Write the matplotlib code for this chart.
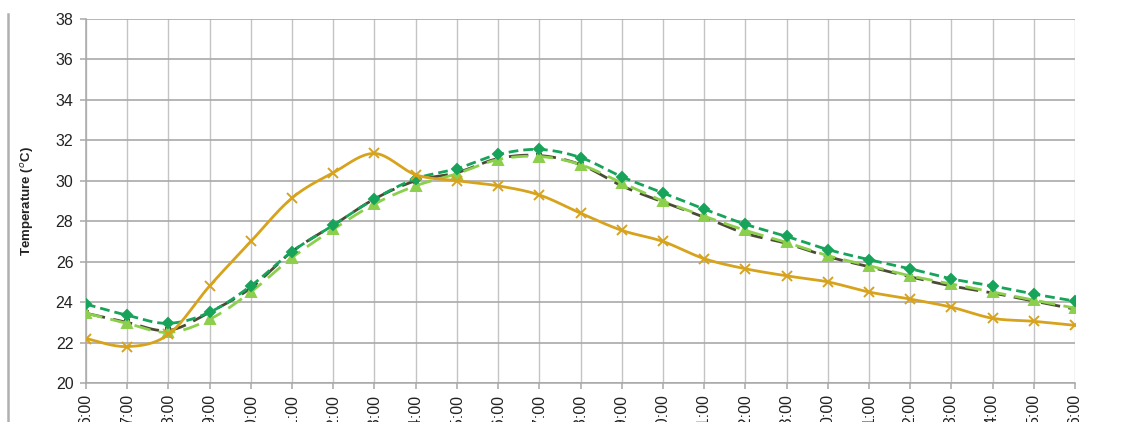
import numpy as np
import matplotlib
matplotlib.use("Agg")
import matplotlib.pyplot as plt
from matplotlib.lines import Line2D

plt.rcParams["font.family"] = ["Liberation Sans", "DejaVu Sans"]

# Hourly temperatures over one day (06:00 to 06:00 next day)
hours = ["6:00", "7:00", "8:00", "9:00", "10:00", "11:00", "12:00", "13:00",
         "14:00", "15:00", "16:00", "17:00", "18:00", "19:00", "20:00", "21:00",
         "22:00", "23:00", "0:00", "1:00", "2:00", "3:00", "4:00", "5:00", "6:00"]

outdoor = [22.2, 21.8, 22.4, 24.8, 27.0, 29.15, 30.4, 31.35, 30.3, 30.0, 29.75, 29.3,
           28.4, 27.55, 27.0, 26.15, 25.65, 25.3, 25.0, 24.5, 24.15, 23.75, 23.2, 23.05, 22.85]

room_a = [23.9, 23.35, 22.95, 23.5, 24.8, 26.5, 27.8, 29.1, 30.1, 30.6, 31.3, 31.55,
          31.15, 30.2, 29.4, 28.6, 27.85, 27.25, 26.6, 26.1, 25.65, 25.15, 24.8, 24.4, 24.05]

room_b = [23.45, 23.0, 22.6, 23.5, 24.7, 26.5, 27.8, 29.1, 30.0, 30.4, 31.1, 31.25,
          30.8, 29.75, 28.95, 28.2, 27.4, 26.9, 26.25, 25.75, 25.25, 24.8, 24.45, 24.05, 23.65]

room_c = [23.45, 22.95, 22.5, 23.15, 24.5, 26.2, 27.6, 28.85, 29.75, 30.35, 31.05, 31.2,
          30.8, 29.9, 29.0, 28.25, 27.55, 26.95, 26.3, 25.8, 25.3, 24.9, 24.5, 24.1, 23.7]

y_ticks = [20, 22, 24, 26, 28, 30, 32, 34, 36, 38]


def smooth(xs, ys, n=20):
    """Smoothed line through the points (cubic Bezier / Catmull-Rom segments)."""
    xs = np.asarray(xs, float)
    ys = np.asarray(ys, float)
    px = np.concatenate([[xs[0]], xs, [xs[-1]]])
    py = np.concatenate([[ys[0]], ys, [ys[-1]]])
    out_x, out_y = [], []
    t = np.linspace(0, 1, n, endpoint=False)
    for i in range(1, len(px) - 2):
        p0 = np.array([px[i], py[i]])
        p3 = np.array([px[i + 1], py[i + 1]])
        c1 = p0 + (np.array([px[i + 1], py[i + 1]]) - np.array([px[i - 1], py[i - 1]])) / 6
        c2 = p3 - (np.array([px[i + 2], py[i + 2]]) - np.array([px[i], py[i]])) / 6
        b = ((1 - t) ** 3)[:, None] * p0 + (3 * (1 - t) ** 2 * t)[:, None] * c1 \
            + (3 * (1 - t) * t ** 2)[:, None] * c2 + (t ** 3)[:, None] * p3
        out_x.extend(b[:, 0])
        out_y.extend(b[:, 1])
    out_x.append(xs[-1])
    out_y.append(ys[-1])
    return np.array(out_x), np.array(out_y)


fig = plt.figure(figsize=(11.35, 4.22), dpi=100)
ax = fig.add_axes([86 / 1135, 1 - 383 / 422, (1075 - 86) / 1135, (383 - 19) / 422])

x = np.arange(len(hours))

series = [
    (room_b, "#4a4a35", (0, (7, 3)), "s", 3.5, 2),
    (room_c, "#8ccf4c", (0, (6, 3)), "^", 6.5, 3),
    (room_a, "#17a35a", (0, (3.5, 1.8)), "D", 5.5, 4),
    (outdoor, "#d8a31c", "-", "x", 6.5, 5),
]
for ys, col, ls, mk, ms, z in series:
    sx, sy = smooth(x, ys)
    ax.plot(sx, sy, color=col, lw=2.0, linestyle=ls, zorder=z)
    ax.plot(x, ys, linestyle="none", marker=mk, markersize=ms, color=col,
            markeredgecolor=col, markeredgewidth=1.4, zorder=z)

ax.set_xlim(0, len(hours) - 1)
ax.set_ylim(20, 38)
ax.set_yticks(y_ticks)
ax.set_xticks(x)
ax.set_xticklabels(hours, rotation=90, va="top", ha="center")
ax.grid(True, axis="y", color="#a9a9a9", lw=1.2)
ax.grid(True, axis="x", color="#c4c4c4", lw=1.0)
ax.set_axisbelow(True)
for s in ["top", "right"]:
    ax.spines[s].set_visible(False)
ax.spines["left"].set_color("#a8a8a8")
ax.spines["bottom"].set_color("#a8a8a8")
ax.spines["left"].set_linewidth(1.1)
ax.spines["bottom"].set_linewidth(1.1)
ax.tick_params(axis="both", colors="#a8a8a8", labelcolor="#222222",
               labelsize=11.5, length=4, width=1.1)
ax.tick_params(axis="y", pad=5)
ax.tick_params(axis="x", pad=4)

ax.set_ylabel("Temperature ($^{o}$C)", fontsize=9.5, fontweight="bold",
              color="#222222", labelpad=14)

# left border rule
fig.add_artist(Line2D([8 / 1135, 8 / 1135], [0, 1 - 14 / 422],
                      transform=fig.transFigure, color="#b0b0b0", lw=1.8))

fig.savefig("out.png", dpi=100, facecolor="white")
